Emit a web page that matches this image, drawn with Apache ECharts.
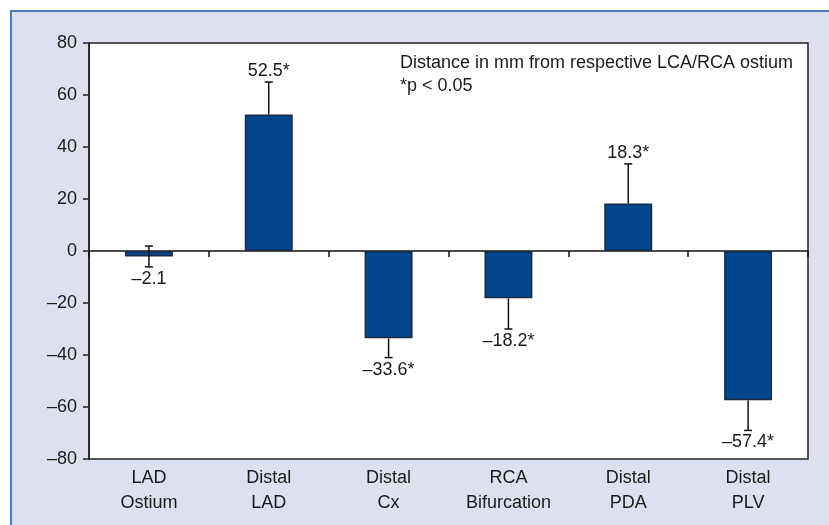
<!DOCTYPE html>
<html>
<head>
<meta charset="utf-8">
<script src="https://cdn.jsdelivr.net/npm/echarts@6/dist/echarts.min.js"></script>
<style>
  html, body { margin: 0; padding: 0; background: #fff; }
  #chart { width: 829px; height: 525px; }
</style>
</head>
<body>
<div id="chart"></div>
<script>
// values
const categories = ['LAD\nOstium', 'Distal\nLAD', 'Distal\nCx', 'RCA\nBifurcation', 'Distal\nPDA', 'Distal\nPLV'];
const means = [-2.1, 52.5, -33.6, -18.2, 18.3, -57.4];
const errLow = [-6.1, 52.5, -41, -30, 18.3, -69];
const errHigh = [1.9, 65, -33.6, -18.2, 33.5, -57.4];
const valueLabels = ['–2.1', '52.5*', '–33.6*', '–18.2*', '18.3*', '–57.4*'];
const yTicks = [-80, -60, -40, -20, 0, 20, 40, 60, 80];
const noteLines = ['Distance in mm from respective LCA/RCA ostium', '*p < 0.05'];

const FONT = '"Liberation Sans", Arial, sans-serif';
const INK = '#1a1a1a';

const chart = echarts.init(document.getElementById('chart'));

const errData = categories.map((c, i) => [i, errLow[i], errHigh[i], means[i]]);

chart.setOption({
  animation: false,
  graphic: [
    {
      type: 'rect', z: -10, silent: true,
      shape: { x: 11, y: 11, width: 840, height: 540 },
      style: { fill: '#dde0ee', stroke: '#4a7cbf', lineWidth: 2 }
    },
    {
      type: 'text', left: 400, top: 52, z: 10,
      style: {
        text: noteLines.join('\n'),
        font: '18px ' + FONT, fill: INK, lineHeight: 23
      }
    }
  ],
  grid: {
    left: 89, right: 21, top: 43, bottom: 66,
    show: true, backgroundColor: '#fff', borderColor: '#222', borderWidth: 1.5
  },
  xAxis: [
    {
      type: 'category', data: categories, position: 'bottom',
      axisLine: { onZero: true, lineStyle: { color: '#111', width: 1.5 } },
      axisTick: { show: true, length: 6, inside: false, lineStyle: { color: '#111', width: 1.5 } },
      axisLabel: { show: false },
      splitLine: { show: false }
    },
    {
      type: 'category', data: categories, position: 'bottom',
      axisLine: { show: false, onZero: false },
      axisTick: { show: false },
      axisLabel: { color: INK, fontFamily: FONT, fontSize: 18, lineHeight: 25, margin: 7 },
      splitLine: { show: false }
    }
  ],
  yAxis: {
    type: 'value', min: -80, max: 80, interval: 20,
    axisLine: { show: true, lineStyle: { color: '#222', width: 1.5 } },
    axisTick: { show: true, length: 6, lineStyle: { color: '#222', width: 1.5 } },
    axisLabel: {
      color: INK, fontFamily: FONT, fontSize: 18, margin: 12,
      formatter: v => (yTicks.includes(v) ? String(v).replace('-', '–') : '')
    },
    splitLine: { show: false }
  },
  series: [
    {
      type: 'bar', data: means, xAxisIndex: 0, barWidth: '40%',
      itemStyle: { color: '#00468c', borderColor: '#1c2a44', borderWidth: 1.5 },
      z: 2
    },
    {
      type: 'custom', xAxisIndex: 0, data: errData, z: 5,
      renderItem: (params, api) => {
        const i = api.value(0);
        const lo = api.coord([i, api.value(1)]);
        const hi = api.coord([i, api.value(2)]);
        const m = api.value(3);
        const x = lo[0];
        const cap = 4;
        const stl = { stroke: '#111', lineWidth: 1.5 };
        const kids = [{ type: 'line', shape: { x1: x, y1: lo[1], x2: x, y2: hi[1] }, style: stl }];
        if (api.value(1) !== m) kids.push({ type: 'line', shape: { x1: x - cap, y1: lo[1], x2: x + cap, y2: lo[1] }, style: stl });
        if (api.value(2) !== m) kids.push({ type: 'line', shape: { x1: x - cap, y1: hi[1], x2: x + cap, y2: hi[1] }, style: stl });
        const up = m > 0;
        kids.push({
          type: 'text',
          style: {
            text: valueLabels[params.dataIndex],
            x: x, y: up ? hi[1] - 2 : lo[1] + 3,
            align: 'center', verticalAlign: up ? 'bottom' : 'top',
            font: '18px ' + FONT, fill: INK
          }
        });
        return { type: 'group', children: kids };
      }
    }
  ]
});
</script>
</body>
</html>
